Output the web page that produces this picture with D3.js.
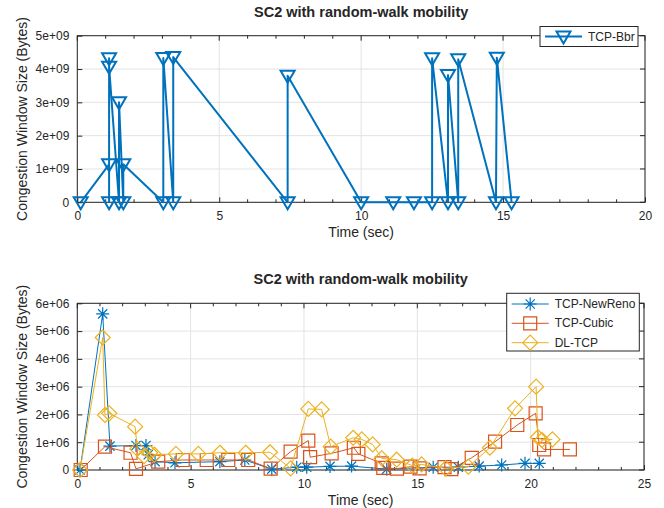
<!DOCTYPE html>
<html><head><meta charset="utf-8">
<script src="https://cdn.jsdelivr.net/npm/d3@7"></script>
<style>body{margin:0;background:#fff}svg{display:block}text{font-family:"Liberation Sans",Arial,sans-serif;fill:#262626}</style>
</head><body><svg id="c" width="664" height="508"></svg>
<script>
// ---- data ----
const titleText = "SC2 with random-walk mobility";
const xLabel = "Time (sec)";
const yLabel = "Congestion Window Size (Bytes)";

const bbrX = [0.12,1.12,1.12,1.12,1.12,1.47,1.47,1.62,1.62,3.03,3.03,3.38,3.38,7.41,7.41,10.0,11.13,11.86,12.5,12.5,13.06,13.06,13.42,13.42,14.75,14.78,15.3];
const bbrY = [0,1.14e9,4.32e9,0,4.07e9,0,3.0e9,0,1.14e9,0,4.33e9,0,4.36e9,0,3.8e9,0,0,0,0,4.32e9,0,3.82e9,0,4.29e9,0,4.34e9,0];

const renoX = [0.12,1.12,1.44,2.59,3.03,3.13,3.43,4.31,6.29,7.39,8.58,9.68,10.12,11.15,12.1,13.65,15.7,16.81,17.73,18.72,19.75,20.38];
const renoY = [0,5.62e6,0.86e6,0.88e6,0.88e6,0.55e6,0.3e6,0.26e6,0.3e6,0.36e6,0.03e6,0.1e6,0.1e6,0.13e6,0.14e6,0.03e6,0.1e6,0.1e6,0.14e6,0.18e6,0.24e6,0.24e6];

const cubicX = [0.15,1.22,2.35,2.59,3.57,4.65,5.71,6.66,7.54,8.53,9.41,10.19,10.27,11.22,12.2,12.4,13.43,13.5,14.1,14.7,15.1,16.2,16.5,17.4,18.43,19.41,20.22,20.38,20.59,21.73];
const cubicY = [0,0.84e6,0.62e6,0.04e6,0.3e6,0.36e6,0.36e6,0.36e6,0.36e6,0.05e6,0.66e6,1.06e6,0.46e6,0.6e6,0.8e6,0.58e6,0.24e6,0.08e6,0.05e6,0.12e6,0.06e6,0.1e6,0.03e6,0.44e6,1.02e6,1.62e6,2.04e6,0.9e6,0.74e6,0.74e6];

const dlX = [0.12,1.12,1.22,1.41,2.55,2.65,2.95,3.21,3.4,4.35,5.34,6.29,7.43,8.5,9.41,10.19,10.78,11.18,12.17,12.55,13.03,13.43,14.09,14.78,15.19,16.25,17.25,18.2,19.31,20.24,20.32,20.5,20.96];
const dlY = [0,4.77e6,1.98e6,2.04e6,1.56e6,0.76e6,0.5e6,0.62e6,0.55e6,0.58e6,0.58e6,0.62e6,0.62e6,0.64e6,0.06e6,2.2e6,2.18e6,0.84e6,1.16e6,1.1e6,0.92e6,0.42e6,0.37e6,0.16e6,0.2e6,0.06e6,0.12e6,0.8e6,2.22e6,3.0e6,1.18e6,1.08e6,1.1e6];

const topXTicks = [0,5,10,15,20];
const topYTicks = [0,1e9,2e9,3e9,4e9,5e9];
const topYTickLabels = ["0","1e+09","2e+09","3e+09","4e+09","5e+09"];
const botXTicks = [0,5,10,15,20,25];
const botYTicks = [0,1e6,2e6,3e6,4e6,5e6,6e6];
const botYTickLabels = ["0","1e+06","2e+06","3e+06","4e+06","5e+06","6e+06"];

const seriesNamesTop = ["TCP-Bbr"];
const seriesNamesBot = ["TCP-NewReno","TCP-Cubic","DL-TCP"];
const colors = ["#0072BD","#D95319","#EDB120"];

// ---- drawing ----
const svg = d3.select("#c");
const axisCol = "#262626", gridCol = "#e3e3e3";

function panel(cfg){
  const g = svg.append("g");
  const x = d3.scaleLinear().domain(cfg.xd).range([cfg.l, cfg.r]);
  const y = d3.scaleLinear().domain(cfg.yd).range([cfg.b, cfg.t]);
  g.selectAll(".gx").data(cfg.xt).enter().append("line")
    .attr("x1",d=>x(d)).attr("x2",d=>x(d)).attr("y1",cfg.t).attr("y2",cfg.b)
    .attr("stroke",gridCol).attr("stroke-width",1);
  g.selectAll(".gy").data(cfg.yt).enter().append("line")
    .attr("x1",cfg.l).attr("x2",cfg.r).attr("y1",d=>y(d)).attr("y2",d=>y(d))
    .attr("stroke",gridCol).attr("stroke-width",1);
  const ax = d3.axisBottom(x).tickValues(cfg.xt).tickSize(-5).tickPadding(9).tickFormat(d3.format("d"));
  const gx = g.append("g").attr("transform",`translate(0,${cfg.b})`).call(ax);
  const ay = d3.axisLeft(y).tickValues(cfg.yt).tickSize(-5).tickPadding(8).tickFormat((d,i)=>cfg.ytl[i]);
  const gy = g.append("g").attr("transform",`translate(${cfg.l},0)`).call(ay);
  [gx,gy].forEach(s=>{
    s.select(".domain").remove();
    s.selectAll("line").attr("stroke",axisCol);
    s.selectAll("text").attr("font-size",12).attr("fill",axisCol).style("font-family","Liberation Sans, Arial, sans-serif");
  });
  g.selectAll(".tt").data(cfg.xt).enter().append("line")
    .attr("x1",d=>x(d)).attr("x2",d=>x(d)).attr("y1",cfg.t).attr("y2",cfg.t+5).attr("stroke",axisCol);
  g.selectAll(".rt").data(cfg.yt).enter().append("line")
    .attr("x1",cfg.r).attr("x2",cfg.r-5).attr("y1",d=>y(d)).attr("y2",d=>y(d)).attr("stroke",axisCol);
  const minor = d3.range(cfg.xd[0], cfg.xd[1]+0.001, 1).filter(v=>cfg.xt.indexOf(v)<0);
  g.selectAll(".mb").data(minor).enter().append("line")
    .attr("x1",d=>x(d)).attr("x2",d=>x(d)).attr("y1",cfg.b).attr("y2",cfg.b-3).attr("stroke",axisCol);
  g.selectAll(".mt").data(minor).enter().append("line")
    .attr("x1",d=>x(d)).attr("x2",d=>x(d)).attr("y1",cfg.t).attr("y2",cfg.t+3).attr("stroke",axisCol);
  g.append("rect").attr("x",cfg.l).attr("y",cfg.t).attr("width",cfg.r-cfg.l).attr("height",cfg.b-cfg.t)
    .attr("fill","none").attr("stroke",axisCol).attr("stroke-width",1);
  g.append("text").attr("x",(cfg.l+cfg.r)/2).attr("y",cfg.t-19).attr("text-anchor","middle")
    .attr("font-size",14.5).attr("font-weight","bold").text(titleText);
  g.append("text").attr("x",(cfg.l+cfg.r)/2).attr("y",cfg.b+35).attr("text-anchor","middle")
    .attr("font-size",14).text(xLabel);
  g.append("text").attr("transform",`translate(27,${(cfg.t+cfg.b)/2}) rotate(-90)`).attr("text-anchor","middle")
    .attr("font-size",14).text(yLabel);
  return {g,x,y};
}

function markerPath(type){
  if(type==="tri") return "M-7,-5L7,-5L0,7Z";
  if(type==="sq") return "M-6.5,-6.5L6.5,-6.5L6.5,6.5L-6.5,6.5Z";
  if(type==="dia") return "M0,-7.5L7.5,0L0,7.5L-7.5,0Z";
  if(type==="ast") return "M-6.5,0L6.5,0M0,-6.5L0,6.5M-4.6,-4.6L4.6,4.6M-4.6,4.6L4.6,-4.6";
}

function series(p, xs, ys, color, type, lw, mlw){
  const pts = xs.map((d,i)=>[d,ys[i]]);
  const line = d3.line().x(d=>p.x(d[0])).y(d=>p.y(d[1]));
  p.g.append("path").attr("d",line(pts)).attr("fill","none").attr("stroke",color).attr("stroke-width",lw).attr("stroke-linejoin","round");
  p.g.selectAll(null).data(pts).enter().append("path")
    .attr("transform",d=>`translate(${p.x(d[0])},${p.y(d[1])})`)
    .attr("d",markerPath(type)).attr("fill","none").attr("stroke",color).attr("stroke-width",mlw);
}

const topPanel = panel({xd:[0,20], yd:[0,5e9], l:77.3, r:645, t:35.7, b:202.3, xt:topXTicks, yt:topYTicks, ytl:topYTickLabels});
series(topPanel, bbrX, bbrY, colors[0], "tri", 2, 2);

const botPanel = panel({xd:[0,25], yd:[0,6e6], l:77.3, r:644, t:303.3, b:470, xt:botXTicks, yt:botYTicks, ytl:botYTickLabels});
series(botPanel, renoX, renoY, colors[0], "ast", 1, 1.2);
series(botPanel, cubicX, cubicY, colors[1], "sq", 1, 1.2);
series(botPanel, dlX, dlY, colors[2], "dia", 1, 1.2);

function legend(x0,y0,w,h,items){
  const lg = svg.append("g");
  lg.append("rect").attr("x",x0).attr("y",y0).attr("width",w).attr("height",h).attr("fill","#fff").attr("stroke",axisCol);
  items.forEach(it=>{
    lg.append("line").attr("x1",x0+5).attr("x2",x0+42).attr("y1",it.y).attr("y2",it.y).attr("stroke",it.c).attr("stroke-width",it.lw);
    lg.append("path").attr("transform",`translate(${x0+23.5},${it.y})`).attr("d",markerPath(it.m)).attr("fill","none").attr("stroke",it.c).attr("stroke-width",it.mlw);
    lg.append("text").attr("x",x0+48).attr("y",it.y+4).attr("font-size",12).text(it.t);
  });
}
legend(540,26.5,98,20,[{y:36.5,c:colors[0],m:"tri",t:seriesNamesTop[0],lw:2,mlw:2}]);
legend(506.7,293.3,132.6,57.7,[
  {y:304,c:colors[0],m:"ast",t:seriesNamesBot[0],lw:1,mlw:1.2},
  {y:323.3,c:colors[1],m:"sq",t:seriesNamesBot[1],lw:1,mlw:1.2},
  {y:342.7,c:colors[2],m:"dia",t:seriesNamesBot[2],lw:1,mlw:1.2}
]);
</script></body></html>
